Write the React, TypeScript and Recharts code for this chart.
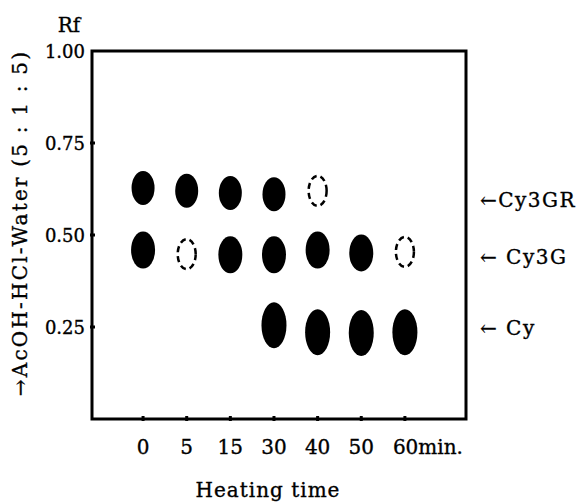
import React from 'react';
import { ScatterChart, Scatter, XAxis, YAxis, ReferenceArea, ReferenceLine } from 'recharts';

const FONT = '"DejaVu Serif", "Liberation Serif", serif';
const INK = { fill: '#000', stroke: '#000', strokeWidth: 0.35 };

// heating time lanes and Rf ticks
const times = ['0', '5', '15', '30', '40', '50', '60min.'];
const rfTicks = [0.25, 0.5, 0.75, 1.0];

// Rf of each spot per lane (null = no spot); faint = dashed outline spot
const cy3grRf = [0.628, 0.62, 0.614, 0.611, 0.62, null, null];
const cy3grFaint = [false, false, false, false, true, false, false];
const cy3gRf = [0.459, 0.448, 0.446, 0.446, 0.459, 0.451, 0.454];
const cy3gFaint = [false, true, false, false, false, false, true];
const cyRf = [null, null, null, 0.255, 0.236, 0.234, 0.236];
const cyFaint = [false, false, false, false, false, false, false];

// band names on the right
const bandNames = ['←Cy3GR', '← Cy3G', '← Cy'];
const bandRf = [0.595, 0.44, 0.247];

type Spot = { i: number; rf: number; faint: boolean };

const toSpots = (rf: (number | null)[], faint: boolean[]): Spot[] =>
  rf
    .map((v, i) => (v == null ? null : { i, rf: v, faint: faint[i] }))
    .filter((s): s is Spot => s !== null);

const cy3grSpots = toSpots(cy3grRf, cy3grFaint);
const cy3gSpots = toSpots(cy3gRf, cy3gFaint);
const cySpots = toSpots(cyRf, cyFaint);

const spotShape = (rx: number, ry: number) => (props: any) => {
  const { cx, cy, payload } = props;
  if (payload.faint) {
    return (
      <ellipse
        cx={cx}
        cy={cy}
        rx={9}
        ry={15}
        fill="none"
        stroke="#000"
        strokeWidth={2.5}
        strokeDasharray="6 4"
      />
    );
  }
  return <ellipse cx={cx} cy={cy} rx={rx} ry={ry} fill="#000" />;
};

const XTick = (props: any) => {
  const { x, y, payload } = props;
  const label = times[payload.value];
  const last = payload.value === times.length - 1;
  return (
    <g>
      <line x1={x} y1={y} x2={x} y2={y - 5} stroke="#000" strokeWidth={3} />
      <text
        x={last ? x - 12 : x}
        y={y + 33}
        textAnchor={last ? 'start' : 'middle'}
        fontFamily={FONT}
        fontSize={20}
        {...INK}
      >
        {label}
      </text>
    </g>
  );
};

const YTick = (props: any) => {
  const { x, y, payload } = props;
  return (
    <g>
      {payload.value < 1 && (
        <line x1={x} y1={y} x2={x + 5} y2={y} stroke="#000" strokeWidth={3} />
      )}
      <text
        x={x - 5}
        y={y}
        textAnchor="end"
        dominantBaseline="central"
        fontFamily={FONT}
        fontSize={18}
        {...INK}
      >
        {payload.value.toFixed(2)}
      </text>
    </g>
  );
};

const bandLabel = (name: string) => (props: any) => {
  const { viewBox } = props;
  return (
    <text
      x={viewBox.x + viewBox.width + 14}
      y={viewBox.y}
      dominantBaseline="central"
      fontFamily={FONT}
      fontSize={20}
      letterSpacing={1.5}
      {...INK}
    >
      {name}
    </text>
  );
};

const YTitle = (props: any) => {
  const { viewBox } = props;
  const cx = viewBox.x + 20;
  const cy = viewBox.y + viewBox.height / 2 - 12;
  return (
    <g>
      <text x={69} y={32} textAnchor="middle" fontFamily={FONT} fontSize={20} {...INK}>
        Rf
      </text>
      <text
        x={cx}
        y={cy}
        transform={`rotate(-90 ${cx} ${cy})`}
        textAnchor="middle"
        dominantBaseline="central"
        fontFamily={FONT}
        fontSize={20}
        letterSpacing={2.2}
        {...INK}
      >
        →AcOH-HCl-Water (5 : 1 : 5)
      </text>
    </g>
  );
};

const XTitle = (props: any) => {
  const { viewBox } = props;
  return (
    <text
      x={viewBox.x + viewBox.width / 2 - 11}
      y={viewBox.y + 78}
      textAnchor="middle"
      fontFamily={FONT}
      fontSize={20}
      letterSpacing={1}
      {...INK}
    >
      Heating time
    </text>
  );
};

export default function App() {
  return (
    <div style={{ position: 'absolute', left: 0, top: 0, width: 584, height: 503, background: '#fff' }}>
      <ScatterChart width={584} height={503} margin={{ top: 51, right: 118, bottom: 0, left: 0 }}>
        <XAxis
          type="number"
          dataKey="i"
          domain={[-1.17, 7.4]}
          ticks={[0, 1, 2, 3, 4, 5, 6]}
          allowDataOverflow
          height={84}
          axisLine={false}
          tickLine={false}
          tickSize={0}
          tick={<XTick />}
          label={<XTitle />}
        />
        <YAxis
          type="number"
          dataKey="rf"
          domain={[0, 1]}
          ticks={rfTicks}
          width={92}
          axisLine={false}
          tickLine={false}
          tickSize={0}
          tick={<YTick />}
          label={<YTitle />}
        />
        <ReferenceArea
          x1={-1.17}
          x2={7.4}
          y1={0}
          y2={1}
          fill="none"
          stroke="#000"
          strokeWidth={3}
          ifOverflow="visible"
        />
        {bandRf.map((rf, k) => (
          <ReferenceLine key={bandNames[k]} y={rf} stroke="none" label={bandLabel(bandNames[k])} />
        ))}
        <Scatter data={cy3grSpots} shape={spotShape(11.5, 17)} isAnimationActive={false} />
        <Scatter data={cy3gSpots} shape={spotShape(12, 18.5)} isAnimationActive={false} />
        <Scatter data={cySpots} shape={spotShape(12.5, 23)} isAnimationActive={false} />
      </ScatterChart>
    </div>
  );
}
